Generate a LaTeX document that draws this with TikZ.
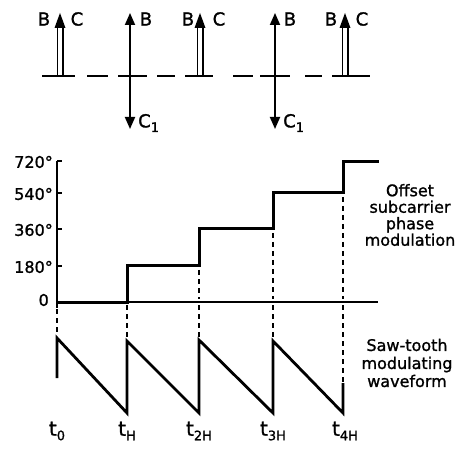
\documentclass[tikz,border=0pt]{standalone}
\usepackage{fontspec}
\setmainfont{DejaVu Sans}[FakeBold=1.2]
\usetikzlibrary{arrows.meta}
\newcommand\lowsub[1]{\raisebox{-4.5pt}{\fontsize{13}{13}\selectfont #1}}
\begin{document}
\begin{tikzpicture}[x=1pt,y=-1pt,
  lbl/.style={font=\fontsize{18}{18}\selectfont, inner sep=0pt},
  num/.style={font=\fontsize{16}{16}\selectfont, inner sep=0pt, anchor=east},
  tl/.style={font=\fontsize{20}{20}\selectfont, inner sep=0pt},
  txt/.style={font=\fontsize{16}{16.5}\selectfont, inner sep=0pt, align=center},
  base/.style={line width=1.5pt},
  axis/.style={line width=1.8pt},
  stair/.style={line width=3pt, line join=miter},
  saw/.style={line width=2.8pt, line join=miter},
  dsh/.style={line width=1.2pt, dash pattern=on 5pt off 4pt},
  darrow/.style={line width=1.8pt, {Triangle[length=12pt,width=10pt]}-{Triangle[length=12pt,width=10pt]}},
  dup/.pic={
    \draw[line width=1.8pt] (-2.6,0) -- (-2.6,-50) (2.6,0) -- (2.6,-50);
    \fill (0,-63) -- (-5.5,-48) -- (5.5,-48) -- cycle;
  }]
\useasboundingbox (0,0) rectangle (474,449);
% ---------- top vector diagram ----------
\foreach \a/\b in {42/75,87/108,118/147,157/175,185/213,233/253,260/290,305/322,332/370}
  \draw[base] (\a,76) -- (\b,76);
\pic at (60,76) {dup};
\pic at (200,76) {dup};
\pic at (345,76) {dup};
\coordinate (a1t) at (130,13); \coordinate (a1b) at (130,129);
\coordinate (a2t) at (275,13); \coordinate (a2b) at (275,129);
\draw[darrow] (a1b) -- (a1t);
\draw[darrow] (a2b) -- (a2t);
\node[lbl] (b1) at (44,19) {B};  \node[lbl] (c1) at (77,19) {C};
\node[lbl] (b3) at (188,19) {B}; \node[lbl] (c3) at (219,19) {C};
\node[lbl] (b5) at (331,19) {B}; \node[lbl] (c5) at (362,19) {C};
\node[lbl] (b2) at (146,19) {B};
\node[lbl] (b4) at (290,19) {B};
\node[lbl,anchor=west] (cc1) at (138,123) {C\lowsub{1}};
\node[lbl,anchor=west] (cc2) at (283,123) {C\lowsub{1}};
% ---------- phase staircase ----------
\coordinate (o) at (57,302);
\draw[axis] (57,161) -- (62,161);
\draw[axis] (57,161) -- (o) -- (378,302);
\foreach \y in {193,229,266} \draw[axis] (57,\y) -- (62,\y);
\draw[axis] (57,302) -- (57,308);
\node[num] (l720) at (53,162) {720°};
\node[num] (l540) at (53,194) {540°};
\node[num] (l360) at (53,230) {360°};
\node[num] (l180) at (53,267) {180°};
\node[num] (l0) at (49,300) {0};
\draw[stair] (o) -- (127,302) -- (127,266) -- (199,266) -- (199,229) -- (273,229) -- (273,193) -- (343,193) -- (343,162) -- (379,162);
\draw[dsh] (199,270) -- (199,299);
\draw[dsh] (273,233) -- (273,299);
\draw[dsh] (343,197) -- (343,299);
\node[txt] (off) at (410,215) {Offset\\subcarrier\\phase\\modulation};
% ---------- saw-tooth ----------
\draw[dsh] (57,309) -- (57,336);
\foreach \x in {127,199,273} \draw[dsh] (\x,305) -- (\x,338);
\draw[dsh] (343,305) -- (343,382);
\coordinate (s0) at (57,338);
\draw[saw] (57,378) -- (s0) -- (127,413) -- (127,341) -- (199,413) -- (199,340) -- (273,413) -- (273,341) -- (343,413) -- (343,383);
\node[txt, font=\fontsize{16}{18}\selectfont] (saw) at (407,363) {Saw-tooth\\modulating\\waveform};
\node[tl] (t0) at (57,431) {t\lowsub{0}};
\node[tl] (t1) at (127,431) {t\lowsub{H}};
\node[tl] (t2) at (199,431) {t\lowsub{2H}};
\node[tl] (t3) at (273,431) {t\lowsub{3H}};
\node[tl] (t4) at (345,431) {t\lowsub{4H}};
\end{tikzpicture}
\end{document}
